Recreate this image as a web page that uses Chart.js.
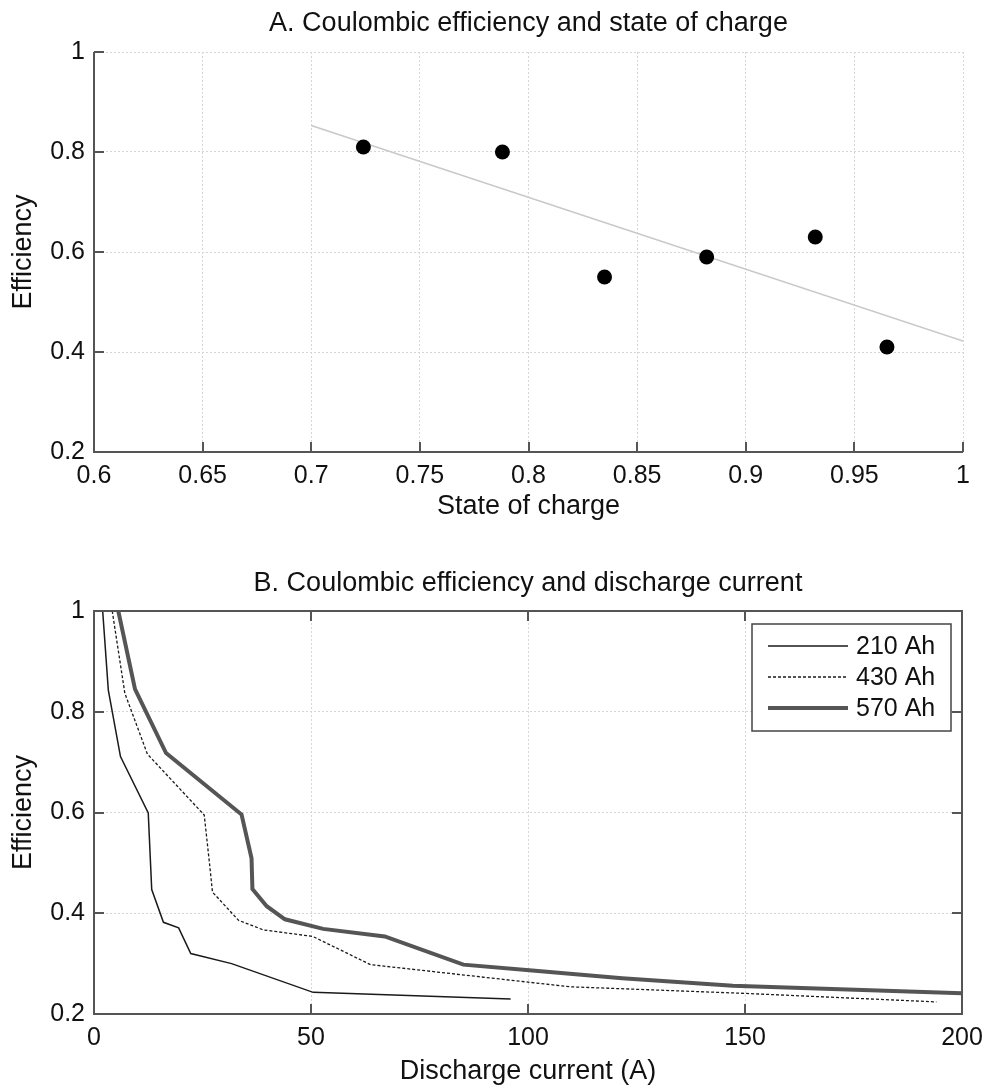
<!DOCTYPE html>
<html>
<head>
<meta charset="utf-8">
<script src="https://cdn.jsdelivr.net/npm/chart.js@4"></script>
<style>
  body { margin: 0; background: #fff; }
  .box { position: absolute; left: 0; }
</style>
</head>
<body>
<div class="box" style="top:0"><canvas id="socChart" width="989" height="540"></canvas></div>
<div class="box" style="top:540px"><canvas id="currentChart" width="989" height="551"></canvas></div>
<script>
// A. efficiency vs state of charge
const stateOfCharge = [0.724, 0.788, 0.835, 0.882, 0.932, 0.965];
const efficiencyA = [0.81, 0.80, 0.55, 0.59, 0.63, 0.41];
const fitX = [0.7, 1.0];
const fitY = [0.853, 0.422];
const socTicks = [0.6, 0.65, 0.7, 0.75, 0.8, 0.85, 0.9, 0.95, 1];

// B. efficiency vs discharge current
const seriesNames = ["210 Ah", "430 Ah", "570 Ah"];
const current210 = [2.0, 3.3, 6.1, 12.5, 13.3, 16.0, 19.5, 22.3, 31.7, 50.5, 96.0];
const eff210 = [1.0, 0.843, 0.711, 0.599, 0.447, 0.382, 0.371, 0.320, 0.300, 0.243, 0.230];
const current430 = [4.2, 7.1, 12.3, 25.4, 26.6, 27.3, 33.3, 39.0, 50.4, 63.7, 109.7, 149.8, 194.1];
const eff430 = [1.0, 0.837, 0.716, 0.595, 0.50, 0.442, 0.386, 0.367, 0.354, 0.298, 0.254, 0.241, 0.224];
const current570 = [5.6, 9.45, 16.6, 34.0, 36.3, 36.5, 39.8, 44.0, 52.8, 67.0, 85.1, 100.3, 121.7, 147.2, 200];
const eff570 = [1.0, 0.845, 0.718, 0.596, 0.509, 0.448, 0.414, 0.388, 0.369, 0.354, 0.298, 0.287, 0.271, 0.256, 0.241];
const currentTicks = [0, 50, 100, 150, 200];
const effTicks = [0.2, 0.4, 0.6, 0.8, 1];

Chart.defaults.font.family = "'Liberation Sans', Arial, sans-serif";
Chart.defaults.font.size = 25;
Chart.defaults.color = "#111";

function pts(xs, ys) {
    return xs.map((v, i) => ({ x: v, y: ys[i] }));
}

// axis lines with ticks pointing into the plot, like the original
const axisFrame = {
    id: "axisFrame",
    afterDatasetsDraw(chart, args, opts) {
        const { ctx, chartArea: a, scales: { x, y } } = chart;
        const len = 10;
        ctx.save();
        ctx.strokeStyle = "#555";
        ctx.lineWidth = 2;
        ctx.beginPath();
        ctx.moveTo(a.left, a.top);
        ctx.lineTo(a.left, a.bottom);
        ctx.lineTo(a.right, a.bottom);
        if (opts.box) {
            ctx.lineTo(a.right, a.top);
            ctx.closePath();
        }
        ctx.stroke();
        ctx.beginPath();
        x.ticks.forEach(t => {
            const px = Math.round(x.getPixelForValue(t.value));
            ctx.moveTo(px, a.bottom);
            ctx.lineTo(px, a.bottom - len);
            if (opts.box) {
                ctx.moveTo(px, a.top);
                ctx.lineTo(px, a.top + len);
            }
        });
        y.ticks.forEach(t => {
            const py = Math.round(y.getPixelForValue(t.value));
            ctx.moveTo(a.left, py);
            ctx.lineTo(a.left + len, py);
            if (opts.box) {
                ctx.moveTo(a.right, py);
                ctx.lineTo(a.right - len, py);
            }
        });
        ctx.stroke();
        ctx.restore();
    }
};

// boxed legend in the top right corner of the plot
const boxLegend = {
    id: "boxLegend",
    afterDraw(chart, args, opts) {
        if (!opts.show) return;
        const { ctx, chartArea: a } = chart;
        const w = 199, h = 107;
        const left = a.right - 11 - w, top = a.top + 13;
        ctx.save();
        ctx.fillStyle = "#fff";
        ctx.fillRect(left, top, w, h);
        ctx.strokeStyle = "#444";
        ctx.lineWidth = 1.5;
        ctx.strokeRect(left, top, w, h);
        chart.data.datasets.forEach((ds, i) => {
            const yy = top + 22 + i * 31;
            ctx.strokeStyle = ds.borderColor;
            ctx.lineWidth = ds.borderWidth;
            ctx.setLineDash(ds.borderDash || []);
            ctx.beginPath();
            ctx.moveTo(left + 16, yy);
            ctx.lineTo(left + 96, yy);
            ctx.stroke();
            ctx.setLineDash([]);
            ctx.fillStyle = "#111";
            ctx.font = "25px 'Liberation Sans', Arial, sans-serif";
            ctx.textBaseline = "middle";
            ctx.fillText(ds.label, left + 104, yy + 1);
        });
        ctx.restore();
    }
};

function makeScales(xTitle, xMin, xMax, xTicks, xHeight) {
    const grid = { color: "#d6d6d6", lineWidth: 1, drawTicks: false, borderDash: [2, 2] };
    const border = { display: false, dash: [2, 2] };
    return {
        x: {
            type: "linear", min: xMin, max: xMax,
            grid: grid, border: border,
            afterBuildTicks: s => { s.ticks = xTicks.map(v => ({ value: v })); },
            afterFit: s => { s.height = xHeight; },
            // tall line box keeps labels below the axis without extra side padding
            ticks: { padding: 0, maxRotation: 0, font: { size: 25, lineHeight: 1.92 }, callback: v => String(v) },
            title: { display: true, text: xTitle, padding: 0, font: { size: 27 } }
        },
        y: {
            type: "linear", min: 0.2, max: 1,
            grid: grid, border: border,
            afterBuildTicks: s => { s.ticks = effTicks.map(v => ({ value: v })); },
            afterFit: s => { s.width = 94; },
            ticks: { padding: 9, callback: v => String(v) },
            title: { display: true, text: "Efficiency", padding: { top: 7, bottom: 0 }, font: { size: 27 } }
        }
    };
}

new Chart(document.getElementById("socChart").getContext("2d"), {
    type: "scatter",
    data: {
        datasets: [{
            label: "Measured",
            data: pts(stateOfCharge, efficiencyA),
            backgroundColor: "#000",
            borderWidth: 0,
            pointRadius: 7.5
        }, {
            label: "Fit",
            data: pts(fitX, fitY),
            showLine: true,
            borderColor: "#c8c8c8",
            borderWidth: 1.5,
            pointRadius: 0
        }]
    },
    options: {
        responsive: false,
        animation: false,
        layout: { padding: { left: 0, right: 26, top: 0, bottom: 17 } },
        scales: makeScales("State of charge", 0.6, 1, socTicks, 71),
        plugins: {
            legend: { display: false },
            tooltip: { enabled: false },
            title: {
                display: true, fullSize: false,
                text: "A. Coulombic efficiency and state of charge",
                font: { size: 27, weight: "normal" },
                padding: { top: 7, bottom: 12.6 }
            },
            axisFrame: { box: false },
            boxLegend: { show: false }
        }
    },
    plugins: [axisFrame, boxLegend]
});

new Chart(document.getElementById("currentChart").getContext("2d"), {
    type: "scatter",
    data: {
        datasets: [{
            label: seriesNames[0],
            data: pts(current210, eff210),
            showLine: true, pointRadius: 0, clip: 0,
            borderColor: "#1a1a1a", borderWidth: 1.5
        }, {
            label: seriesNames[1],
            data: pts(current430, eff430),
            showLine: true, pointRadius: 0, clip: 0,
            borderColor: "#1a1a1a", borderWidth: 1.3, borderDash: [3, 2]
        }, {
            label: seriesNames[2],
            data: pts(current570, eff570),
            showLine: true, pointRadius: 0, clip: 0,
            borderColor: "#555", borderWidth: 4
        }]
    },
    options: {
        responsive: false,
        animation: false,
        layout: { padding: { left: 0, right: 27, top: 0, bottom: 3 } },
        scales: makeScales("Discharge current (A)", 0, 200, currentTicks, 74),
        plugins: {
            legend: { display: false },
            tooltip: { enabled: false },
            title: {
                display: true, fullSize: false,
                text: "B. Coulombic efficiency and discharge current",
                font: { size: 27, weight: "normal" },
                padding: { top: 27, bottom: 11.6 }
            },
            axisFrame: { box: true },
            boxLegend: { show: true }
        }
    },
    plugins: [axisFrame, boxLegend]
});
</script>
</body>
</html>
